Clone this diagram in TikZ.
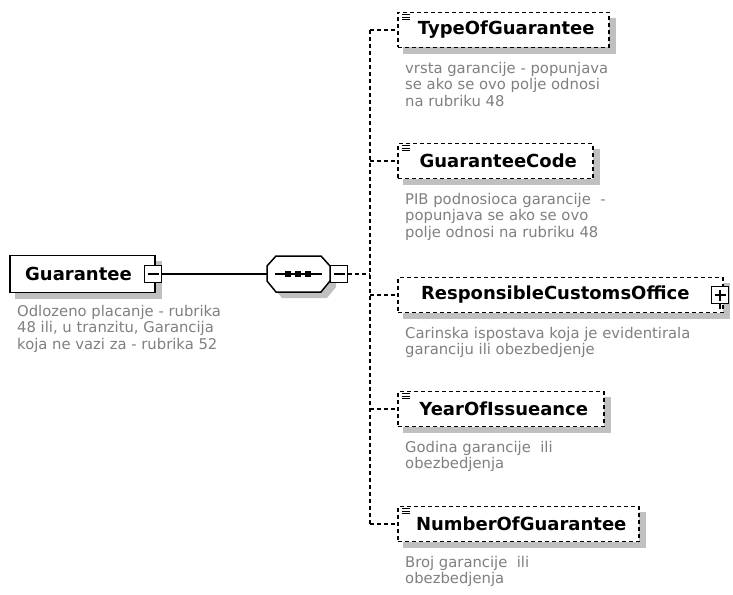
\documentclass[tikz,border=0pt]{standalone}
\usepackage{fontspec}
\setmainfont{DejaVu Sans}
\usetikzlibrary{backgrounds}
\definecolor{descgray}{RGB}{128,128,128}
\definecolor{shadowgray}{RGB}{192,192,192}
\begin{document}
\begin{tikzpicture}[x=1pt,y=-1pt,
  titlefont/.style={font=\fontsize{18}{20}\selectfont\bfseries},
  elembox/.style={draw=black,line width=1.5pt,dash pattern=on 4pt off 3pt,fill=white,minimum height=35pt,inner sep=0pt,titlefont,anchor=west},
  rootbox/.style={draw=black,line width=1.5pt,fill=white,minimum height=37pt,minimum width=145pt,inner sep=0pt,titlefont},
  togglebox/.style={draw=black,line width=1.4pt,fill=white,minimum size=17pt,inner sep=0pt},
  minusbox/.style={togglebox,path picture={\draw[line width=1.4pt] ([xshift=3pt]path picture bounding box.west) -- ([xshift=-3pt]path picture bounding box.east);}},
  plusbox/.style={togglebox,path picture={\draw[line width=1.4pt] ([xshift=3pt]path picture bounding box.west) -- ([xshift=-3pt]path picture bounding box.east); \draw[line width=1.4pt] ([yshift=-3pt]path picture bounding box.north) -- ([yshift=3pt]path picture bounding box.south);}},
  desc/.style={anchor=north west,inner sep=0pt,align=left,text=descgray,font=\fontsize{14.8}{16.5}\selectfont},
  conn/.style={line width=1.4pt},
  dconn/.style={line width=1.4pt,dash pattern=on 4pt off 3pt},
  shadowfill/.style={fill=shadowgray},
]
\useasboundingbox (0,0) rectangle (733,594);

% root element
\node[rootbox] (root) at (82.5,274) {\hspace*{-8pt}Guarantee};
\node[minusbox] (rm) at (153,274) {};
\node[desc] (rootdesc) at (17,305) {Odlozeno placanje - rubrika\\48 ili, u tranzitu, Garancija\\koja ne vazi za - rubrika 52};

% sequence compositor
\node[minimum width=63pt,minimum height=36pt,inner sep=0pt] (seq) at (298.5,274) {};
\fill[shadowgray] (282,262) -- (327,262) -- (336,272) -- (336,287) -- (327,298) -- (282,298) -- (273,287) -- (273,272) -- cycle;
\draw[line width=1.5pt,fill=white] (276,256) -- (321,256) -- (330,266) -- (330,281) -- (321,292) -- (276,292) -- (267,281) -- (267,266) -- cycle;
\draw[line width=1.4pt] (275,274) -- (322,274);
\foreach \sx in {288,298,308} \fill (\sx-2.8,271.2) rectangle (\sx+2.8,276.8);
\node[minusbox] (sm) at (339,274) {};

% children
\coordinate (bus) at (370,274);
\node[elembox,minimum width=211pt] (t1) at (397,30) {\hspace*{6pt}TypeOfGuarantee};
\node[elembox,minimum width=195pt] (t2) at (397,161) {\hspace*{6pt}GuaranteeCode};
\node[elembox,minimum width=325pt] (t3) at (397,295) {ResponsibleCustomsOffice\hspace*{10pt}};
\node[plusbox] (pm) at (720,295) {};
\node[elembox,minimum width=206pt] (t4) at (397,409) {\hspace*{6pt}YearOfIssueance};
\node[elembox,minimum width=241pt] (t5) at (397,524) {\hspace*{6pt}NumberOfGuarantee};
\draw[line width=1.4pt] (pm.south) -- ++(0,5);

\begin{scope}[on background layer]
  \fill[white] (0,0) rectangle (733,594);
  \foreach \n in {root,t1,t2,t3,t4,t5}
    \fill[shadowfill] ([shift={(6pt,-6pt)}]\n.south west) rectangle ([shift={(6pt,-6pt)}]\n.north east);
\end{scope}

\foreach \n in {t1,t2,t4,t5}{
  \draw[line width=1pt] ([xshift=5pt,yshift=-3pt]\n.north west) -- ++(8,0);
  \draw[line width=1pt] ([xshift=5pt,yshift=-5.5pt]\n.north west) -- ++(8,0);
  \draw[line width=1pt] ([xshift=5pt,yshift=-8pt]\n.north west) -- ++(8,0);
}

\node[desc] (d1) at (405,62) {vrsta garancije - popunjava\\se ako se ovo polje odnosi\\na rubriku 48};
\node[desc] (d2) at (405,193) {PIB podnosioca garancije\ \ -\\popunjava se ako se ovo\\polje odnosi na rubriku 48};
\node[desc] (d3) at (405,327) {Carinska ispostava koja je evidentirala\\garanciju ili obezbedjenje};
\node[desc] (d4) at (405,441) {Godina garancije\ \ ili\\obezbedjenja};
\node[desc] (d5) at (405,556) {Broj garancije\ \ ili\\obezbedjenja};

% connectors
\draw[conn] (rm.east) -- (seq.west);
\draw[dconn] (sm.east) -- (bus);
\draw[dconn] (t1.west -| bus) -- (t5.west -| bus);
\foreach \n in {t1,t2,t3,t4,t5}
  \draw[dconn] (\n.west -| bus) -- (\n.west);
\end{tikzpicture}
\end{document}
